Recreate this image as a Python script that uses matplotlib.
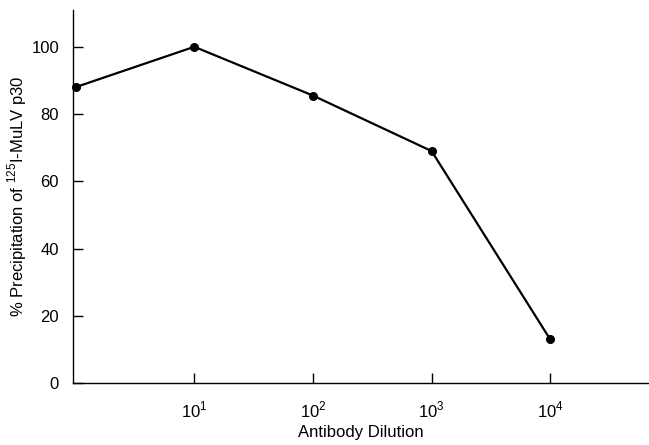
import matplotlib
matplotlib.use("Agg")
import matplotlib.pyplot as plt
from matplotlib.ticker import FixedLocator, NullLocator

dilution = [1, 10, 100, 1000, 10000]
precip = [88, 100, 85.5, 69, 13]
xticks = [10, 100, 1000, 10000]
xticklabels = ["$10^1$", "$10^2$", "$10^3$", "$10^4$"]
yticks = [0, 20, 40, 60, 80, 100]

plt.rcParams['font.family'] = ['Liberation Sans', 'DejaVu Sans']
plt.rcParams['mathtext.fontset'] = 'custom'
plt.rcParams['mathtext.rm'] = 'Liberation Sans'

fig = plt.figure(figsize=(6.49, 4.45), dpi=100)
ax = fig.add_axes([0.1125, 0.139, 0.8875, 0.839])

ax.plot(dilution, precip, color="black", lw=1.6, marker="o", ms=5.5,
        clip_on=False, zorder=3)

ax.set_xscale("log")
ax.set_xlim(0.95, 6.8e4)
ax.set_ylim(0, 111)
ax.xaxis.set_major_locator(FixedLocator(xticks))
ax.xaxis.set_minor_locator(NullLocator())
ax.set_xticklabels(xticklabels)
ax.set_yticks(yticks)

for s in ["top", "right"]:
    ax.spines[s].set_visible(False)
for s in ["left", "bottom"]:
    ax.spines[s].set_linewidth(1.0)

ax.tick_params(axis="both", direction="in", length=7, width=1.0,
               labelsize=12, colors="black")
ax.tick_params(axis="x", pad=12)
ax.tick_params(axis="y", pad=10)

ax.set_xlabel("Antibody Dilution", fontsize=12, labelpad=3)
ax.set_ylabel("% Precipitation of $^{125}$I-MuLV p30", fontsize=12,
              labelpad=2)

fig.savefig("out.png", dpi=100)
